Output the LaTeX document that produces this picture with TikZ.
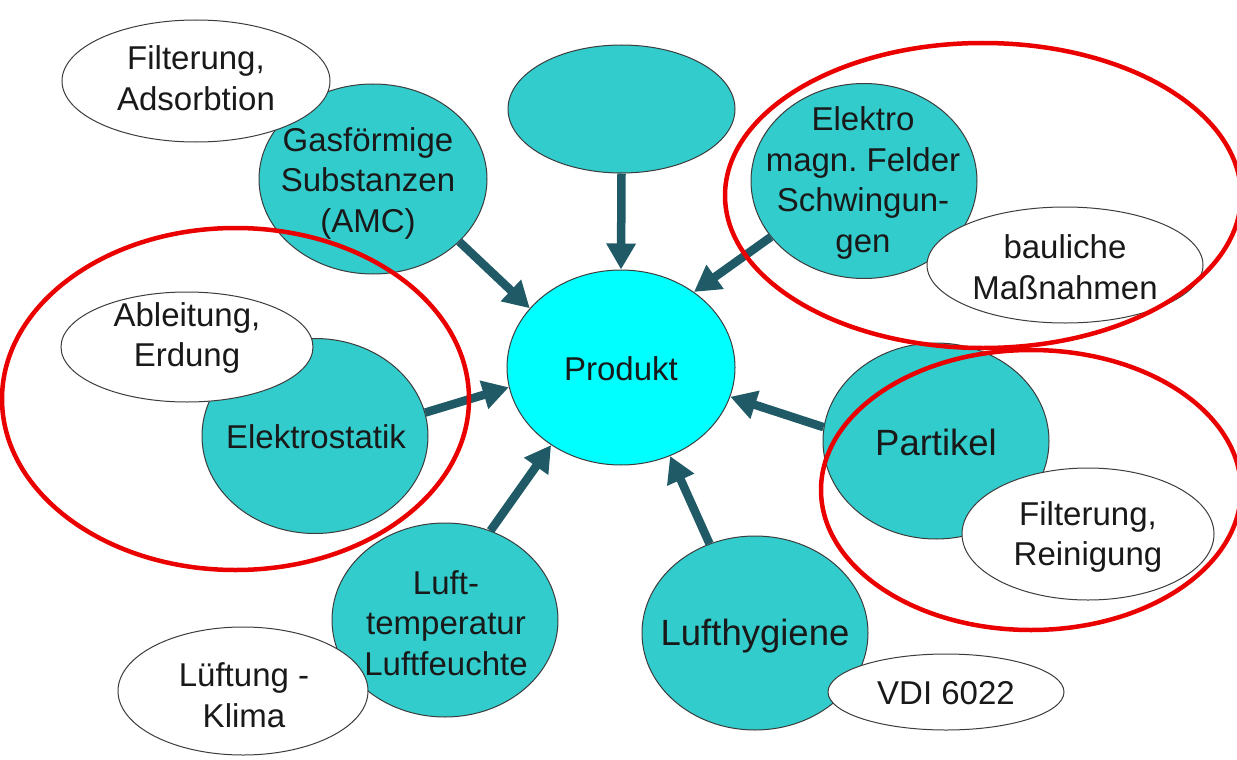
\documentclass[tikz,border=0pt]{standalone}
\usepackage{fontspec}
\setmainfont{Liberation Sans}
\usetikzlibrary{shapes.geometric,arrows.meta}
\definecolor{tealc}{RGB}{51,204,204}
\definecolor{prodc}{RGB}{0,255,255}
\definecolor{arrc}{RGB}{31,90,102}
\definecolor{outl}{RGB}{60,60,60}
\definecolor{redc}{RGB}{235,0,0}
\frenchspacing
\begin{document}
\begin{tikzpicture}[x=1pt,y=-1pt,
  ell/.style={ellipse, draw=outl, line width=1pt, inner sep=0pt},
  topic/.style={ell, fill=tealc},
  note/.style={ell, fill=white},
  lbl/.style={align=center, font=\fontsize{33}{40.5}\selectfont, text=black!90, inner sep=0pt},
  biglbl/.style={lbl, font=\fontsize{36.5}{42}\selectfont},
  conn/.style={draw=arrc, line width=8.5pt, -{Triangle[length=26pt,width=28pt]}},
  hl/.style={draw=redc, line width=4.5pt},
]
\useasboundingbox (0,0) rectangle (1237,760);
\fill[white] (0,0) rectangle (1237,760);

% topic circles
\node[topic, minimum width=227pt, minimum height=128pt] (top) at (621.5,109) {};
\node[ell, fill=prodc, minimum width=228pt, minimum height=195pt] (prod) at (621,367.5) {};
\node[topic, minimum width=228pt, minimum height=190pt] (gas) at (373,179) {};
\node[topic, minimum width=226pt, minimum height=195pt] (elek) at (864,181) {};
\node[topic, minimum width=226pt, minimum height=195pt] (elst) at (315,436) {};
\node[topic, minimum width=226pt, minimum height=194pt] (luft) at (445,620) {};
\node[topic, minimum width=226pt, minimum height=194pt] (lhyg) at (755,633) {};
\node[topic, minimum width=226pt, minimum height=196pt] (part) at (936,441) {};

% notes
\node[note, minimum width=268pt, minimum height=122pt] (filt1) at (196,81) {};
\node[note, minimum width=276pt, minimum height=116pt] (baul) at (1065,265) {};
\node[note, minimum width=252pt, minimum height=110pt] (ableit) at (187,347) {};
\node[note, minimum width=250pt, minimum height=128pt] (lueft) at (243,691) {};
\node[note, minimum width=252pt, minimum height=132pt] (filt2) at (1088,534) {};
\node[note, minimum width=236pt, minimum height=76pt] (vdi) at (946,692) {};

% texts
\node[lbl] (tprod) at (621,369) {Produkt};
\node[lbl] (tgas) at (368,183) {Gasförmige\\Substanzen\\(AMC)};
\node[lbl] (telek) at (863,183) {Elektro\\magn. Felder\\Schwingun-\\gen};
\node[lbl] (telst) at (316,437) {Elektrostatik};
\node[lbl] (tluft) at (446,623) {Luft-\\temperatur\\Luftfeuchte};
\node[biglbl] (tlhyg) at (755,636) {Lufthygiene};
\node[biglbl] (tpart) at (936,442) {Partikel};
\node[lbl] (tfilt1) at (196,78) {Filterung,\\Adsorbtion};
\node[lbl] (tbaul) at (1065,267) {bauliche\\Maßnahmen};
\node[lbl] (tableit) at (187,338) {Ableitung,\\Erdung};
\node[lbl] (tlueft) at (244,695) {Lüftung -\\Klima};
\node[lbl] (tfilt2) at (1088,537) {Filterung,\\Reinigung};
\node[lbl] (tvdi) at (946,693) {VDI 6022};

% connectors
\draw[conn] (gas.-36) -- (prod.147);
\draw[conn] (top.south) -- (prod.north);
\draw[conn] (elek.211) -- (prod.46);
\draw[conn] (elst.12) -- (prod.190);
\draw[conn] (part.173) -- (prod.345);
\draw[conn] (lhyg.117) -- (prod.299);
\draw[conn] (luft.63) -- (prod.228);

% highlight rings
\draw[hl] (235.5,399) ellipse [x radius=233.5, y radius=171];
\draw[hl] (983,195.5) ellipse [x radius=258, y radius=152.5];
\draw[hl] (1031,490) ellipse [x radius=210, y radius=140];
\end{tikzpicture}
\end{document}
